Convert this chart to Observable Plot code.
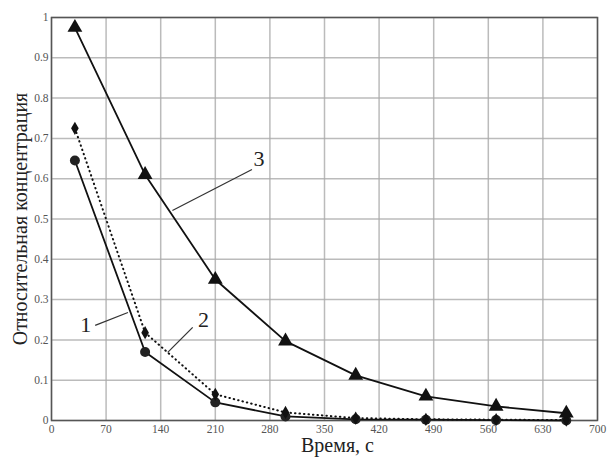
<!DOCTYPE html>
<html><head><meta charset="utf-8">
<script src="https://cdn.jsdelivr.net/npm/d3@7"></script>
<script src="https://cdn.jsdelivr.net/npm/@observablehq/plot@0.6"></script>
<style>body{margin:0;background:#fff}</style>
</head><body><div id="chart"></div>
<script>
const time = [30, 120, 210, 300, 390, 480, 570, 660];
const series1 = [0.645, 0.17, 0.045, 0.01, 0.003, 0.002, 0.001, 0.0];
const series2 = [0.725, 0.218, 0.065, 0.02, 0.006, 0.003, 0.002, 0.001];
const series3 = [0.975, 0.61, 0.35, 0.197, 0.112, 0.06, 0.035, 0.018];
const xTicks = [0, 70, 140, 210, 280, 350, 420, 490, 560, 630, 700];
const yTicks = [0, 0.1, 0.2, 0.3, 0.4, 0.5, 0.6, 0.7, 0.8, 0.9, 1];
const labels = [
  {name: "1", x: 44, y: 0.236, x1: 56, y1: 0.236, x2: 98, y2: 0.268},
  {name: "2", x: 195, y: 0.25, x1: 181, y1: 0.231, x2: 149, y2: 0.169},
  {name: "3", x: 266, y: 0.65, x1: 257, y1: 0.623, x2: 155, y2: 0.521}
];
const d1 = time.map((t, i) => ({t, v: series1[i]}));
const d2 = time.map((t, i) => ({t, v: series2[i]}));
const d3s = time.map((t, i) => ({t, v: series3[i]}));
const serif = "'Liberation Serif', 'DejaVu Serif', serif";
const chart = Plot.plot({
  width: 610, height: 460,
  marginLeft: 51, marginRight: 13, marginTop: 17, marginBottom: 40,
  style: {fontFamily: serif, fontSize: "11px", color: "#555", background: "#fff"},
  x: {domain: [0, 700], label: null, axis: null},
  y: {domain: [0, 1], label: null, axis: null},
  marks: [
    Plot.gridX(xTicks, {stroke: "#aaa", strokeOpacity: 0.8, strokeWidth: 1.5}),
    Plot.gridY(yTicks, {stroke: "#aaa", strokeOpacity: 0.8, strokeWidth: 1.5}),
    Plot.frame({stroke: "#555", strokeWidth: 1.5}),
    Plot.line(d1, {x: "t", y: "v", stroke: "#111", strokeWidth: 1.8}),
    Plot.line(d2, {x: "t", y: "v", stroke: "#111", strokeWidth: 2, strokeDasharray: "0.5,4", strokeLinecap: "round"}),
    Plot.line(d3s, {x: "t", y: "v", stroke: "#111", strokeWidth: 1.8}),
    Plot.dot(d1, {x: "t", y: "v", r: 5, fill: "#222", symbol: "circle"}),
    Plot.dot(d2, {x: "t", y: "v", r: 4, fill: "#111", symbol: "diamond"}),
    Plot.dot(d3s, {x: "t", y: "v", r: 5.5, fill: "#111", symbol: "triangle"}),
    Plot.link(labels, {x1: "x1", y1: "y1", x2: "x2", y2: "y2", stroke: "#333", strokeWidth: 1.2}),
    Plot.text(labels, {x: "x", y: "y", text: "name", fontSize: 22, fill: "#222", fontFamily: serif}),
    Plot.axisX(xTicks, {tickSize: 0, tickPadding: 4, fill: "#555", fontSize: 11.5, fontFamily: serif, label: null}),
    Plot.axisY(yTicks, {tickSize: 0, tickPadding: 3, fill: "#555", fontSize: 11.5, fontFamily: serif, tickFormat: d => String(d), label: null}),
    Plot.text(["Время, с"], {frameAnchor: "bottom", dx: 13, dy: 31, fontSize: 20, fill: "#222", fontFamily: serif}),
    Plot.text(["Относительная концентрация"], {frameAnchor: "left", dx: -31, textAnchor: "middle", rotate: -90, fontSize: 20, fill: "#222", fontFamily: serif})
  ]
});
document.getElementById("chart").appendChild(chart);
</script>
</body></html>
